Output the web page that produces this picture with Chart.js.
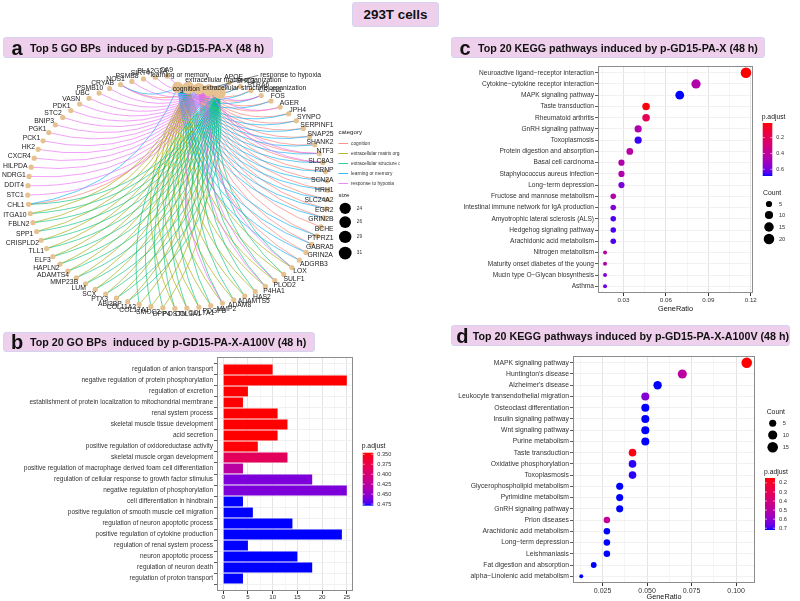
<!DOCTYPE html>
<html lang="en">
<head>
<meta charset="UTF-8">
<title>293T cells</title>
<script src="https://cdn.jsdelivr.net/npm/chart.js"></script>
<style>
  body { margin: 0; width: 800px; height: 601px; position: relative; overflow: hidden; background: #fff;
         font-family: "Liberation Sans", Arial, sans-serif; }
  .box { position: absolute; box-sizing: border-box; background: #EFD0EC; border: 1px solid #D5D3F0;
         border-radius: 3px; display: flex; align-items: center; font-weight: bold; color: #111; white-space: nowrap; z-index: 2; }
  .box .tag { font-size: 20px; width: 22px; text-align: center; margin-left: 2px; margin-right: 2px; line-height: 1; }
  .box .txt { font-size: 10.7px; }
  canvas { position: absolute; }
</style>
</head>
<body>

<div class="box" style="left:352px;top:2px;width:87px;height:25px;justify-content:center;font-size:13.4px;">293T cells</div>
<div class="box" style="left:3px;top:37px;width:270px;height:21px;"><span class="tag">a</span><span class="txt">Top 5 GO BPs&nbsp; induced by p-GD15-PA-X (48 h)</span></div>
<div class="box" style="left:3px;top:332px;width:312px;height:20px;"><span class="tag">b</span><span class="txt">Top 20 GO BPs&nbsp; induced by p-GD15-PA-X-A100V (48 h)</span></div>
<div class="box" style="left:451px;top:37px;width:314px;height:21px;"><span class="tag">c</span><span class="txt">Top 20 KEGG pathways induced by p-GD15-PA-X (48 h)</span></div>
<div class="box" style="left:451px;top:325px;width:339px;height:21px;"><span class="tag">d</span><span class="txt">Top 20 KEGG pathways induced by p-GD15-PA-X-A100V (48 h)</span></div>

<canvas id="cnet" width="400" height="272" style="left:0;top:58px;"></canvas>
<canvas id="goBar" width="400" height="249" style="left:0;top:352px;"></canvas>
<canvas id="keggX" width="400" height="260" style="left:400px;top:58px;"></canvas>
<canvas id="keggA" width="400" height="255" style="left:400px;top:346px;"></canvas>

<script>
// ---------- panel a : gene-concept network ----------
const goCategories = ['cognition', 'extracellular matrix organization', 'extracellular structure organization',
  'learning or memory', 'response to hypoxia'];
const goGenes = ['CA9', 'PLA2G2A', 'SIRT4', 'PSMB8', 'NOS1', 'CRYAB', 'PSMB10', 'UBC', 'VASN', 'PDK1', 'STC2', 'BNIP3',
  'PGK1', 'PCK1', 'HK2', 'CXCR4', 'HILPDA', 'NDRG1', 'DDIT4', 'STC1', 'CHL1', 'ITGA10', 'FBLN2', 'SPP1', 'CRISPLD2',
  'TLL1', 'ELF3', 'HAPLN2', 'ADAMTS4', 'MMP23B', 'LUM', 'SCX', 'PTX3', 'ABI3BP', 'COL11A2', 'COL17A1', 'SMOC2', 'DPP4',
  'POSTN', 'COL3A1', 'COL7A1', 'PDGFB', 'MMP2', 'ADAM8', 'ADAMTS5', 'HAS2', 'P4HA1', 'PLOD2', 'SULF1', 'LOX', 'ADGRB3',
  'GRIN2A', 'GABRA5', 'PTPRZ1', 'BCHE', 'GRIN2B', 'EGR2', 'SLC24A2', 'HRH1', 'SCN2A', 'PRNP', 'SLC8A3', 'NTF3', 'SHANK2',
  'SNAP25', 'SERPINF1', 'SYNPO', 'JPH4', 'AGER', 'FOS', 'CRHR1', 'STRA6', 'SHC3', 'APOE'];
const cognitionGenes = ['CHL1', 'NOS1', 'ADGRB3', 'GRIN2A', 'GABRA5', 'PTPRZ1', 'BCHE', 'GRIN2B', 'EGR2', 'SLC24A2',
  'HRH1', 'SCN2A', 'PRNP', 'SLC8A3', 'NTF3', 'SHANK2', 'SNAP25', 'SERPINF1', 'SYNPO', 'JPH4', 'AGER', 'FOS', 'CRHR1',
  'STRA6', 'SHC3', 'APOE'];
const matrixGenes = ['ITGA10', 'FBLN2', 'SPP1', 'CRISPLD2', 'TLL1', 'ELF3', 'HAPLN2', 'ADAMTS4', 'MMP23B', 'LUM', 'SCX',
  'PTX3', 'ABI3BP', 'COL11A2', 'COL17A1', 'SMOC2', 'DPP4', 'POSTN', 'COL3A1', 'COL7A1', 'PDGFB', 'MMP2', 'ADAM8',
  'ADAMTS5', 'HAS2', 'P4HA1', 'PLOD2', 'SULF1', 'LOX'];
const structureGenes = ['CHL1', 'ITGA10', 'FBLN2', 'SPP1', 'CRISPLD2', 'TLL1', 'ELF3', 'HAPLN2', 'ADAMTS4', 'MMP23B',
  'LUM', 'SCX', 'PTX3', 'ABI3BP', 'COL11A2', 'COL17A1', 'SMOC2', 'DPP4', 'POSTN', 'COL3A1', 'COL7A1', 'PDGFB', 'MMP2',
  'ADAM8', 'ADAMTS5', 'HAS2', 'P4HA1', 'PLOD2', 'SULF1', 'LOX', 'APOE'];
const learningGenes = ['CHL1', 'NOS1', 'ADGRB3', 'GRIN2A', 'PTPRZ1', 'GRIN2B', 'EGR2', 'SLC24A2', 'HRH1', 'PRNP',
  'SLC8A3', 'NTF3', 'SHANK2', 'SNAP25', 'SYNPO', 'JPH4', 'FOS', 'CRHR1', 'SHC3', 'APOE', 'SCN2A', 'SERPINF1', 'GABRA5',
  'STRA6'];
const hypoxiaGenes = ['CA9', 'PLA2G2A', 'SIRT4', 'PSMB8', 'NOS1', 'CRYAB', 'PSMB10', 'UBC', 'VASN', 'PDK1', 'STC2',
  'BNIP3', 'PGK1', 'PCK1', 'HK2', 'CXCR4', 'HILPDA', 'NDRG1', 'DDIT4', 'STC1', 'P4HA1', 'PLOD2', 'LOX', 'MMP2',
  'SLC8A3', 'NTF3', 'AGER', 'CRHR1', 'APOE'];
const sizeTicks = [24, 26, 29, 31];

// ---------- panel b : GO bar chart ----------
const bpTerms = ['regulation of anion transport', 'negative regulation of protein phosphorylation',
  'regulation of excretion', 'establishment of protein localization to mitochondrial membrane',
  'renal system process', 'skeletal muscle tissue development', 'acid secretion',
  'positive regulation of oxidoreductase activity', 'skeletal muscle organ development',
  'positive regulation of macrophage derived foam cell differentiation',
  'regulation of cellular response to growth factor stimulus', 'negative regulation of phosphorylation',
  'cell differentiation in hindbrain', 'positive regulation of smooth muscle cell migration',
  'regulation of neuron apoptotic process', 'positive regulation of cytokine production',
  'regulation of renal system process', 'neuron apoptotic process', 'regulation of neuron death',
  'regulation of proton transport'];
const bpCounts = [10, 25, 5, 4, 11, 13, 11, 7, 13, 4, 18, 25, 4, 6, 14, 24, 5, 15, 18, 4];
const bpPadj = [0.346, 0.346, 0.346, 0.346, 0.346, 0.346, 0.346, 0.347, 0.386, 0.426, 0.459, 0.459,
  0.479, 0.479, 0.479, 0.479, 0.479, 0.479, 0.479, 0.479];
const bpTicks = [0, 5, 10, 15, 20, 25];
const bpPadjTicks = [0.350, 0.375, 0.400, 0.425, 0.450, 0.475];

// ---------- panel c : KEGG dot plot, p-GD15-PA-X ----------
const keggXTerms = ['Neuroactive ligand\u2212receptor interaction', 'Cytokine\u2212cytokine receptor interaction',
  'MAPK signaling pathway', 'Taste transduction', 'Rheumatoid arthritis', 'GnRH signaling pathway', 'Toxoplasmosis',
  'Protein digestion and absorption', 'Basal cell carcinoma', 'Staphylococcus aureus infection',
  'Long\u2212term depression', 'Fructose and mannose metabolism', 'Intestinal immune network for IgA production',
  'Amyotrophic lateral sclerosis (ALS)', 'Hedgehog signaling pathway', 'Arachidonic acid metabolism',
  'Nitrogen metabolism', 'Maturity onset diabetes of the young', 'Mucin type O\u2212Glycan biosynthesis', 'Asthma'];
const keggXRatio = [0.1166, 0.0813, 0.0698, 0.0460, 0.0460, 0.0404, 0.0404, 0.0345, 0.0286, 0.0286, 0.0286,
  0.0228, 0.0228, 0.0228, 0.0228, 0.0228, 0.0170, 0.0170, 0.0170, 0.0170];
const keggXCount = [20, 14, 12, 8, 8, 7, 7, 6, 5, 5, 5, 4, 4, 4, 4, 4, 3, 3, 3, 3];
const keggXPadj = [0.015, 0.45, 0.685, 0.03, 0.20, 0.45, 0.665, 0.43, 0.45, 0.45, 0.585, 0.44, 0.57, 0.65, 0.65,
  0.65, 0.44, 0.44, 0.57, 0.605];
const keggXTicks = [0.03, 0.06, 0.09, 0.12];
const keggXPadjTicks = [0.2, 0.4, 0.6];
const keggXCountTicks = [5, 10, 15, 20];

// ---------- panel d : KEGG dot plot, p-GD15-PA-X-A100V ----------
const keggATerms = ['MAPK signaling pathway', "Huntington's disease", "Alzheimer's disease",
  'Leukocyte transendothelial migration', 'Osteoclast differentiation', 'Insulin signaling pathway',
  'Wnt signaling pathway', 'Purine metabolism', 'Taste transduction', 'Oxidative phosphorylation', 'Toxoplasmosis',
  'Glycerophospholipid metabolism', 'Pyrimidine metabolism', 'GnRH signaling pathway', 'Prion diseases',
  'Arachidonic acid metabolism', 'Long\u2212term depression', 'Leishmaniasis', 'Fat digestion and absorption',
  'alpha\u2212Linolenic acid metabolism'];
const keggARatio = [0.1060, 0.0698, 0.0559, 0.0490, 0.0490, 0.0490, 0.0490, 0.0490, 0.0418, 0.0418, 0.0418,
  0.0346, 0.0346, 0.0346, 0.0274, 0.0274, 0.0274, 0.0274, 0.0200, 0.0130];
const keggACount = [15, 10, 8, 7, 7, 7, 7, 7, 6, 6, 6, 5, 5, 5, 4, 4, 4, 4, 3, 2];
const keggAPadj = [0.146, 0.49, 0.72, 0.62, 0.72, 0.72, 0.72, 0.72, 0.163, 0.71, 0.71, 0.72, 0.72, 0.72, 0.46,
  0.72, 0.72, 0.72, 0.72, 0.72];
const keggATicks = [0.025, 0.050, 0.075, 0.100];
const keggAPadjTicks = [0.2, 0.3, 0.4, 0.5, 0.6, 0.7];
const keggACountTicks = [5, 10, 15];

// ---------- shared helpers ----------
const FONT = '"Liberation Sans", Arial, sans-serif';
Chart.defaults.font.family = FONT;
Chart.defaults.color = '#3a3a3a';

// ggplot-like red -> blue gradient interpolated in CIELAB
function lin(c) { c /= 255; return c <= 0.04045 ? c / 12.92 : Math.pow((c + 0.055) / 1.055, 2.4); }
function gam(c) {
  c = c <= 0.0031308 ? 12.92 * c : 1.055 * Math.pow(Math.max(c, 0), 1 / 2.4) - 0.055;
  return Math.round(Math.max(0, Math.min(1, c)) * 255);
}
function rgbToLab(rgb) {
  const [r, g, b] = rgb.map(lin);
  const x = (0.4124 * r + 0.3576 * g + 0.1805 * b) / 0.95047;
  const y = 0.2126 * r + 0.7152 * g + 0.0722 * b;
  const z = (0.0193 * r + 0.1192 * g + 0.9505 * b) / 1.08883;
  const f = t => t > 0.008856 ? Math.cbrt(t) : 7.787 * t + 16 / 116;
  return [116 * f(y) - 16, 500 * (f(x) - f(y)), 200 * (f(y) - f(z))];
}
function labToRgb([L, A, B]) {
  const fy = (L + 16) / 116, fx = fy + A / 500, fz = fy - B / 200;
  const inv = t => t ** 3 > 0.008856 ? t ** 3 : (t - 16 / 116) / 7.787;
  const x = 0.95047 * inv(fx), y = inv(fy), z = 1.08883 * inv(fz);
  return [3.2406 * x - 1.5372 * y - 0.4986 * z,
          -0.9689 * x + 1.8758 * y + 0.0415 * z,
          0.0557 * x - 0.2040 * y + 1.0570 * z].map(gam);
}
const LAB_LOW = rgbToLab([255, 0, 0]), LAB_HIGH = rgbToLab([0, 0, 255]);
function padjColor(v, lo, hi) {
  const t = Math.max(0, Math.min(1, (v - lo) / (hi - lo)));
  return 'rgb(' + labToRgb(LAB_LOW.map((l, k) => l + (LAB_HIGH[k] - l) * t)).join(',') + ')';
}

function dotRadius(n, lo, hi) { return 0.66 * (3 + 5 * Math.sqrt((n - lo) / (hi - lo))); }

function withMinors(major, min, max) {
  const step = major[1] - major[0];
  const all = [];
  major.forEach((v, i) => {
    if (i === 0 && v - step / 2 >= min) all.push({ value: v - step / 2, minor: true });
    all.push({ value: v });
    const m = v + step / 2;
    if (m <= max) all.push({ value: m, minor: true });
  });
  return all;
}
const isMajor = (v, major) => major.some(m => Math.abs(m - v) < 1e-9);

function text(ctx, str, x, y, size, align, color, bold) {
  ctx.font = (bold ? 'bold ' : '') + size + 'px ' + FONT;
  ctx.textAlign = align || 'left';
  ctx.textBaseline = 'middle';
  ctx.fillStyle = color || '#1a1a1a';
  ctx.fillText(str, x, y);
}

function drawColorbar(ctx, o) {
  const g = ctx.createLinearGradient(0, o.y, 0, o.y + o.h);
  for (let k = 0; k <= 24; k++) g.addColorStop(k / 24, padjColor(o.lo + (o.hi - o.lo) * k / 24, o.lo, o.hi));
  ctx.fillStyle = g;
  ctx.fillRect(o.x, o.y, o.w, o.h);
  text(ctx, 'p.adjust', o.x - 1, o.titleY, 6.8);
  o.ticks.forEach(v => {
    const ty = o.y + (v - o.lo) / (o.hi - o.lo) * o.h;
    ctx.strokeStyle = '#fff'; ctx.lineWidth = 0.6;
    ctx.beginPath();
    ctx.moveTo(o.x, ty); ctx.lineTo(o.x + 2, ty);
    ctx.moveTo(o.x + o.w - 2, ty); ctx.lineTo(o.x + o.w, ty);
    ctx.stroke();
    text(ctx, v.toFixed(o.digits), o.x + o.w + 4, ty, o.labelSize, 'left', '#333');
  });
}

function drawCountLegend(ctx, o) {
  text(ctx, 'Count', o.x - 6, o.titleY, 6.8);
  o.ticks.forEach((n, i) => {
    ctx.fillStyle = '#000';
    ctx.beginPath();
    ctx.arc(o.x, o.ys[i], dotRadius(n, o.lo, o.hi), 0, Math.PI * 2);
    ctx.fill();
    text(ctx, String(n), o.x + 10, o.ys[i], 5.6, 'left', '#333');
  });
}

const panelFrame = {
  id: 'panelFrame',
  afterDraw(chart) {
    const a = chart.chartArea, c = chart.ctx;
    c.save();
    c.strokeStyle = '#8c8c8c'; c.lineWidth = 1;
    c.strokeRect(Math.round(a.left) + 0.5, Math.round(a.top) + 0.5, Math.round(a.width) - 1, Math.round(a.height) - 1);
    c.restore();
  }
};

// ---------- panel a ----------
const catColors = ['#F8766D', '#A3A500', '#00BF7D', '#00B0F6', '#E76BF3'];
const catMembers = [cognitionGenes, matrixGenes, structureGenes, learningGenes, hypoxiaGenes];
const cnet = { cx: 177, cy: 192, rx: 155, ry: 122, start: 94, end: 430,
  slot: [2, 1, 4, 0, 3],
  labelNudge: [[1, 0, 'right'], [-3, -8, 'left'], [-17, -4, 'left'], [2, -12, 'center'], [51, -15, 'left']] };
const rad = d => d * Math.PI / 180;
const geneAngle = goGenes.map((g, i) => cnet.start + i * (cnet.end - cnet.start) / (goGenes.length - 1));
const genePts = geneAngle.map(a => ({ x: cnet.cx + cnet.rx * Math.cos(rad(a)), y: cnet.cy - cnet.ry * Math.sin(rad(a)) }));
const catPts = goCategories.map((c, k) => {
  const phi = rad(90 - cnet.slot[k] * 4.5);
  return { x: cnet.cx + 0.9 * cnet.rx * Math.cos(phi), y: cnet.cy - 0.9 * cnet.ry * Math.sin(phi) };
});
const catRadius = n => 1.15 * Math.sqrt(n);
const NODE = '#E6C290';

const cnetDraw = {
  id: 'cnetDraw',
  beforeDatasetsDraw(chart) {
    const { ctx, scales: { x, y } } = chart;
    ctx.save();
    ctx.lineWidth = 0.7;
    ctx.globalAlpha = 0.9;
    const cxp = x.getPixelForValue(cnet.cx), cyp = y.getPixelForValue(cnet.cy);
    goCategories.forEach((cat, k) => {
      const p0 = [x.getPixelForValue(catPts[k].x), y.getPixelForValue(catPts[k].y)];
      ctx.strokeStyle = catColors[k];
      catMembers[k].forEach(g => {
        const gp = genePts[goGenes.indexOf(g)];
        const p1 = [x.getPixelForValue(gp.x), y.getPixelForValue(gp.y)];
        const mx = (p0[0] + p1[0]) / 2, my = (p0[1] + p1[1]) / 2;
        let nx = -(p1[1] - p0[1]), ny = p1[0] - p0[0];
        if (nx * (cxp - mx) + ny * (cyp - my) < 0) { nx = -nx; ny = -ny; }
        ctx.beginPath();
        ctx.moveTo(p0[0], p0[1]);
        ctx.quadraticCurveTo(mx + nx * 0.28, my + ny * 0.28, p1[0], p1[1]);
        ctx.stroke();
      });
    });
    ctx.restore();
  },
  afterDatasetsDraw(chart) {
    const { ctx, scales: { x, y } } = chart;
    const px = v => x.getPixelForValue(v), py = v => y.getPixelForValue(v);
    ctx.save();
    goGenes.forEach((g, i) => {
      const a = rad(geneAngle[i]), c = Math.cos(a), s = Math.sin(a);
      ctx.font = '6.8px ' + FONT;
      const w = ctx.measureText(g).width;
      let lx = px(genePts[i].x) + c * 5 + c * (w / 2 - 1);
      const ly = py(genePts[i].y) - s * 6;
      lx = Math.max(2 + w / 2, Math.min(px(338) - w / 2, lx));
      text(ctx, g, lx, ly, 6.8, 'center', '#1a1a1a');
    });
    goCategories.forEach((cat, k) => {
      const [dx, dy, al] = cnet.labelNudge[k];
      const cx = px(catPts[k].x), cy = py(catPts[k].y);
      if (Math.abs(dx) > 20) {
        ctx.strokeStyle = '#222'; ctx.lineWidth = 0.6;
        ctx.beginPath(); ctx.moveTo(cx + 4, cy - 3); ctx.lineTo(cx + dx - 2, cy + dy); ctx.stroke();
      }
      text(ctx, cat, cx + dx, cy + dy, 6.8, al, '#1a1a1a');
    });
    // legend (page coordinates go through the scales)
    text(ctx, 'category', px(343), py(129), 6.2);
    goCategories.forEach((cat, k) => {
      const ly = py(141 + k * 10.5);
      ctx.strokeStyle = catColors[k]; ctx.lineWidth = 0.8;
      ctx.beginPath(); ctx.moveTo(px(343), ly); ctx.lineTo(px(353), ly); ctx.stroke();
      text(ctx, cat, px(356), ly, 4.8, 'left', '#333');
    });
    text(ctx, 'size', px(343), py(195), 6.2);
    sizeTicks.forEach((n, i) => {
      const ly = py([209, 223.5, 239, 256][i]);
      ctx.fillStyle = '#000';
      ctx.beginPath(); ctx.arc(px(350), ly, catRadius(n), 0, Math.PI * 2); ctx.fill();
      text(ctx, String(n), px(362), ly, 4.8, 'left', '#333');
    });
    ctx.restore();
  }
};

new Chart(document.getElementById('cnet'), {
  type: 'scatter',
  data: {
    datasets: [
      { data: catPts, pointRadius: catMembers.map(m => catRadius(m.length)), pointBackgroundColor: NODE, pointBorderWidth: 0 },
      { data: genePts, pointRadius: 2.6, pointBackgroundColor: NODE, pointBorderWidth: 0 }
    ]
  },
  options: {
    responsive: false, animation: false, events: [],
    layout: { padding: 0 },
    plugins: { legend: { display: false }, tooltip: { enabled: false } },
    scales: {
      x: { type: 'linear', display: false, min: 0, max: 400 },
      y: { type: 'linear', display: false, min: 58, max: 330, reverse: true }
    },
    elements: { point: { hoverRadius: 0 } }
  },
  plugins: [cnetDraw]
});

// ---------- panel b ----------
(function () {
  const lo = Math.min(...bpPadj), hi = Math.max(...bpPadj);
  const xMin = -0.05 * Math.max(...bpCounts), xMax = 1.05 * Math.max(...bpCounts);
  const ticks = withMinors(bpTicks, xMin, xMax);
  new Chart(document.getElementById('goBar'), {
    type: 'bar',
    data: {
      datasets: [{
        data: bpCounts.map((v, i) => ({ x: v, y: i })),
        backgroundColor: bpPadj.map(v => padjColor(v, lo, hi)),
        borderWidth: 0, barPercentage: 0.9, categoryPercentage: 1
      }]
    },
    options: {
      indexAxis: 'y', responsive: false, animation: false, events: [],
      layout: { padding: { left: 0, right: 47, top: 5, bottom: 0 } },
      plugins: { legend: { display: false }, tooltip: { enabled: false } },
      scales: {
        x: {
          type: 'linear', min: xMin, max: xMax,
          afterBuildTicks: s => { s.ticks = ticks.map(t => ({ value: t.value })); },
          afterFit: s => { s.height = 10; },
          border: { display: false },
          grid: {
            color: c => isMajor(c.tick.value, bpTicks) ? '#E4E4E4' : '#F1F1F1',
            lineWidth: c => isMajor(c.tick.value, bpTicks) ? 1 : 0.7,
            tickLength: 3, tickColor: c => isMajor(c.tick.value, bpTicks) ? '#333' : 'rgba(0,0,0,0)'
          },
          ticks: { autoSkip: false, maxRotation: 0, padding: 0, font: { size: 6.2 }, color: '#333',
            callback: v => isMajor(v, bpTicks) ? String(Math.round(v)) : '' }
        },
        y: {
          type: 'linear', reverse: true, min: -0.6, max: bpTerms.length - 0.4,
          afterBuildTicks: s => { s.ticks = bpTerms.map((t, i) => ({ value: i })); },
          afterFit: s => { s.width = 217; },
          border: { display: false },
          grid: { color: '#EDEDED', lineWidth: 0.8, tickLength: 3, tickColor: '#333' },
          ticks: { autoSkip: false, padding: 1, font: { size: 6.5 }, color: '#333', callback: v => bpTerms[v] }
        }
      }
    },
    plugins: [panelFrame, {
      id: 'bpLegend',
      afterDraw(chart) {
        drawColorbar(chart.ctx, { x: 362.7, y: 100.7, w: 10.6, h: 53, lo, hi, ticks: bpPadjTicks, digits: 3,
          titleY: 93.7, labelSize: 5.6 });
      }
    }]
  });
})();

// ---------- panels c and d ----------
function dotPlot(id, terms, ratio, count, padj, xTicks, digits, geom) {
  const lo = Math.min(...padj), hi = Math.max(...padj);
  const cLo = Math.min(...count), cHi = Math.max(...count);
  const rLo = Math.min(...ratio), rHi = Math.max(...ratio);
  const xMin = rLo - 0.05 * (rHi - rLo), xMax = rHi + 0.05 * (rHi - rLo);
  const ticks = withMinors(xTicks, xMin, xMax);
  new Chart(document.getElementById(id), {
    type: 'scatter',
    data: {
      datasets: [{
        data: ratio.map((r, i) => ({ x: r, y: i })),
        pointRadius: count.map(n => dotRadius(n, cLo, cHi)),
        pointBackgroundColor: padj.map(v => padjColor(v, lo, hi)),
        pointBorderWidth: 0
      }]
    },
    options: {
      responsive: false, animation: false, events: [], clip: false,
      layout: { padding: { left: 0, right: geom.right, top: geom.top, bottom: 0 } },
      plugins: { legend: { display: false }, tooltip: { enabled: false } },
      scales: {
        x: {
          type: 'linear', min: xMin, max: xMax,
          afterBuildTicks: s => { s.ticks = ticks.map(t => ({ value: t.value })); },
          afterFit: s => { s.height = geom.xHeight; },
          border: { display: false },
          grid: {
            color: c => isMajor(c.tick.value, xTicks) ? '#E4E4E4' : '#F1F1F1',
            lineWidth: c => isMajor(c.tick.value, xTicks) ? 1 : 0.7,
            tickLength: 3, tickColor: c => isMajor(c.tick.value, xTicks) ? '#333' : 'rgba(0,0,0,0)'
          },
          ticks: { autoSkip: false, maxRotation: 0, padding: 1, font: { size: geom.tickSize }, color: '#333',
            callback: v => isMajor(v, xTicks) ? v.toFixed(digits) : '' },
          title: { display: true, text: 'GeneRatio', color: '#111', font: { size: 7.3 },
            padding: { top: 0, bottom: geom.titlePad } }
        },
        y: {
          type: 'linear', reverse: true, min: -0.6, max: terms.length - 0.4,
          afterBuildTicks: s => { s.ticks = terms.map((t, i) => ({ value: i })); },
          afterFit: s => { s.width = geom.yWidth; },
          border: { display: false },
          grid: { color: '#EDEDED', lineWidth: 0.8, tickLength: 3, tickColor: '#333' },
          ticks: { autoSkip: false, padding: 1, font: { size: geom.labelSize }, color: '#333', callback: v => terms[v] }
        }
      }
    },
    plugins: [panelFrame, {
      id: id + 'Legend',
      afterDraw(chart) {
        const ctx = chart.ctx;
        drawColorbar(ctx, Object.assign({ lo, hi }, geom.bar));
        drawCountLegend(ctx, Object.assign({ lo: cLo, hi: cHi }, geom.count));
      }
    }]
  });
}

dotPlot('keggX', keggXTerms, keggXRatio, keggXCount, keggXPadj, keggXTicks, 2, {
  right: 47, top: 8, xHeight: 25, yWidth: 198, labelSize: 6.6, tickSize: 6.2, titlePad: 4.5,
  bar: { x: 362.7, y: 65, w: 9.6, h: 53, ticks: keggXPadjTicks, digits: 1, titleY: 58.7, labelSize: 5.5 },
  count: { x: 369, titleY: 135, ticks: keggXCountTicks, ys: [146, 157, 169, 181] }
});

dotPlot('keggA', keggATerms, keggARatio, keggACount, keggAPadj, keggATicks, 3, {
  right: 45, top: 10, xHeight: 18, yWidth: 173, labelSize: 6.8, tickSize: 7, titlePad: 0,
  bar: { x: 365, y: 132, w: 10, h: 52, ticks: keggAPadjTicks, digits: 1, titleY: 125.7, labelSize: 5.8 },
  count: { x: 372.7, titleY: 65.7, ticks: keggACountTicks, ys: [77.3, 89, 101.3] }
});
</script>
</body>
</html>
